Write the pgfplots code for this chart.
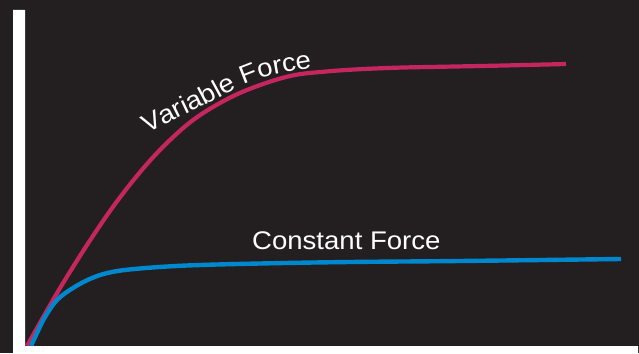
\documentclass[border=0pt]{standalone}
\usepackage{pgfplots}
\pgfplotsset{compat=1.18}
\usepackage{fontspec}
\usetikzlibrary{decorations.text}
\newfontfamily\labfont[FakeStretch=1.08]{Liberation Sans}
\definecolor{bg}{RGB}{35,31,32}
\definecolor{vred}{RGB}{196,38,93}
\definecolor{cblue}{RGB}{0,136,206}
\begin{document}
\begin{tikzpicture}
\useasboundingbox (0,0) rectangle (639pt,353pt);
\fill[bg] (0,0) rectangle (639pt,353pt);
\begin{axis}[
  at={(25pt,7pt)}, anchor=south west,
  scale only axis, width=614pt, height=336pt,
  xmin=0, xmax=614, ymin=0, ymax=336,
  hide axis, clip=false,
]
\addplot[vred, line width=4.2pt, smooth, tension=0.6] coordinates {
(2,0) (28,46) (48,79) (70,113.1) (93,146) (120,179.7) (145,206) (171,228.1)
(203,247.3) (233,260.2) (267,270.4) (300,274.4) (335,276.8) (375,278.4)
(415,279.2) (475,280.4) (541,282)};
\addplot[cblue, line width=4.4pt, smooth, tension=0.6] coordinates {
(6,0) (12,13) (20,29) (32,46) (48,58) (67,68) (87,74) (115,77.5) (162,80.5)
(235,82.5) (325,84) (435,85) (596,87)};
\addplot[draw=none, smooth, postaction={decorate},
  decoration={text along path, text align=left, text color=white,
  text={|\labfont\fontsize{25.5}{30}\selectfont|Variable Force}}]
  coordinates {(122,212) (155,229) (182,242) (210,257) (227,265) (247,271)
  (275,276) (295,279) (325,282) (355,284)};
\node[anchor=base west, inner sep=0pt, text=white, font=\labfont\fontsize{25.5}{30}\selectfont]
  at (axis cs:227,96) {Constant Force};
\end{axis}
\fill[white] (13pt,0pt) -- (638pt,0pt) -- (638pt,7pt) -- (25pt,7pt)
  -- (25pt,343pt) -- (13pt,343pt) -- cycle;
\end{tikzpicture}
\end{document}
